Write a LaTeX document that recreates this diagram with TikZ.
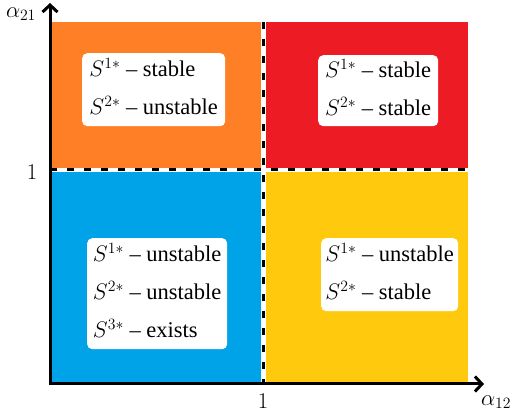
\RequirePackage{fix-cm}
\documentclass[tikz,border=0pt]{standalone}
\usepackage{fontspec}
\setmainfont{Liberation Serif}
\usetikzlibrary{arrows.meta}
\definecolor{qorange}{RGB}{255,127,39}
\definecolor{qred}{RGB}{237,28,36}
\definecolor{qblue}{RGB}{0,162,232}
\definecolor{qyellow}{RGB}{255,201,14}
\tikzset{
  infobox/.style={fill=white, rounded corners=5pt, anchor=north west, inner xsep=4pt, inner ysep=0pt, align=left,
    font=\fontsize{22.5}{38}\selectfont},
  axis/.style={line width=3pt, {Straight Barb[length=7pt,width=15pt,line width=3pt]}-{Straight Barb[length=7pt,width=15pt,line width=3pt]}},
  divider/.style={line width=3pt, dash pattern=on 7pt off 10pt},
  lbl/.style={font=\fontsize{22.5}{27}\selectfont, inner sep=0pt}
}
\newcommand{\lastd}{\rule[-6pt]{0pt}{6pt}}
\begin{document}
\begin{tikzpicture}[x=1pt,y=-1pt]
\useasboundingbox (0,0) rectangle (512,411);
% quadrants
\fill[qorange] (52,22) rectangle (261,168);
\fill[qred] (266,22) rectangle (468,168);
\fill[qblue] (52,172) rectangle (261,382);
\fill[qyellow] (266,172) rectangle (468,382);
% dividers
\coordinate (hl) at (50,170);
\coordinate (hr) at (473,170);
\coordinate (vt) at (263.5,22);
\coordinate (vb) at (263.5,384);
\draw[divider] (hl) -- (hr);
\draw[divider] (vt) -- (vb);
% axes
\coordinate (ytip) at (50,3);
\coordinate (O) at (50,384);
\coordinate (xtip) at (484,384);
\draw[axis] (ytip) -- (O) -- (xtip);
% axis labels
\node[lbl] (ay) at (21,14) {$\alpha_{21}$};
\node[lbl] (ax) at (496,402) {$\alpha_{12}$};
\node[lbl] (oney) at (32,172) {$1$};
\node[lbl] (onex) at (263,401) {$1$};
% boxes
\node[infobox, minimum width=143pt, minimum height=73pt] (bo) at (82,53)
  {$S^{1*}$ \textendash{} stable\\$S^{2*}$ \textendash{} unstable\lastd};
\node[infobox, minimum width=120pt, minimum height=71pt] (br) at (318,55)
  {$S^{1*}$ \textendash{} stable\\$S^{2*}$ \textendash{} stable\lastd};
\node[infobox, minimum width=140pt, minimum height=111pt] (bb) at (87,238)
  {$S^{1*}$ \textendash{} unstable\\$S^{2*}$ \textendash{} unstable\\$S^{3*}$ \textendash{} exists\lastd};
\node[infobox, minimum width=137pt, minimum height=73pt] (by) at (321,238)
  {$S^{1*}$ \textendash{} unstable\\$S^{2*}$ \textendash{} stable\lastd};
\end{tikzpicture}
\end{document}
